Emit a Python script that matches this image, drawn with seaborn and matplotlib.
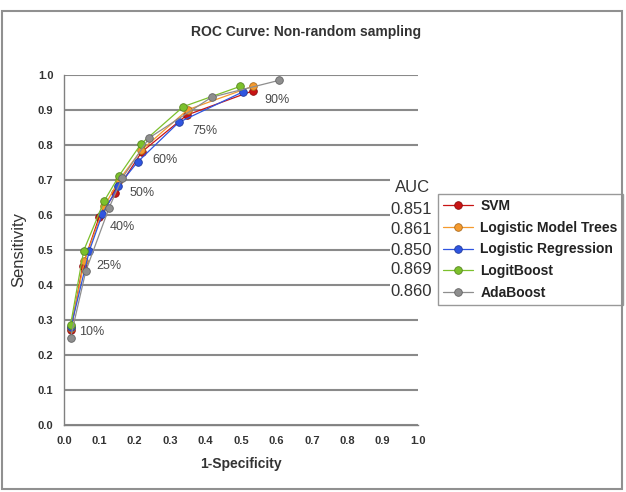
import numpy as np
import pandas as pd
import matplotlib
matplotlib.use('Agg')
import matplotlib.pyplot as plt
import matplotlib.colors as mcolors
from matplotlib.patches import Rectangle
import seaborn as sns

# ROC points (cutoffs 10%, 25%, 40%, 50%, 60%, 75%, 90%)
models = ['SVM', 'Logistic Model Trees', 'Logistic Regression', 'LogitBoost', 'AdaBoost']
auc = ['0.851', '0.861', '0.850', '0.869', '0.860']
cutoffs = ['10%', '25%', '40%', '50%', '60%', '75%', '90%']

svm_fpr = [0.020, 0.053, 0.100, 0.145, 0.220, 0.347, 0.533]
svm_tpr = [0.271, 0.454, 0.595, 0.663, 0.780, 0.885, 0.954]
lmt_fpr = [0.020, 0.058, 0.114, 0.156, 0.218, 0.349, 0.533]
lmt_tpr = [0.277, 0.469, 0.624, 0.700, 0.784, 0.900, 0.967]
lr_fpr = [0.020, 0.072, 0.109, 0.154, 0.208, 0.324, 0.505]
lr_tpr = [0.280, 0.498, 0.603, 0.683, 0.751, 0.864, 0.951]
lb_fpr = [0.019, 0.056, 0.114, 0.156, 0.218, 0.337, 0.498]
lb_tpr = [0.286, 0.498, 0.640, 0.712, 0.803, 0.909, 0.967]
ada_fpr = [0.019, 0.062, 0.128, 0.164, 0.241, 0.417, 0.607]
ada_tpr = [0.250, 0.440, 0.621, 0.704, 0.820, 0.936, 0.984]

# where the cutoff labels sit
label_x = [0.042, 0.093, 0.130, 0.184, 0.251, 0.364, 0.565]
label_y = [0.266, 0.454, 0.566, 0.663, 0.757, 0.840, 0.929]

colors = ['#C81414', '#F59A2E', '#2F55E0', '#7CC02C', '#8E8E8E']

frames = []
for name, fx, fy in zip(models,
                        [svm_fpr, lmt_fpr, lr_fpr, lb_fpr, ada_fpr],
                        [svm_tpr, lmt_tpr, lr_tpr, lb_tpr, ada_tpr]):
    frames.append(pd.DataFrame({'model': name, 'fpr': fx, 'tpr': fy}))
df = pd.concat(frames, ignore_index=True)

sns.set_style('white')
plt.rcParams['font.family'] = ['Liberation Sans', 'DejaVu Sans']

fig = plt.figure(figsize=(6.26, 4.92), dpi=100)
ax = fig.add_axes([0.102, 0.136, 0.566, 0.712])

sns.lineplot(data=df, x='fpr', y='tpr', hue='model', hue_order=models,
             palette=colors, sort=False, estimator=None, marker='o',
             markersize=5.5, linewidth=0.9, legend=False, ax=ax, zorder=3)

for line, c in zip(ax.lines, colors):
    edge = np.array(mcolors.to_rgb(c)) * 0.7
    line.set_markeredgecolor(edge)
    line.set_markeredgewidth(0.6)
    line.set_markerfacecolor(c)

for lab, lx, ly in zip(cutoffs, label_x, label_y):
    ax.text(lx, ly, lab, fontsize=9, color='#4a4a4a', va='center', ha='left')

ax.set_xlim(0, 1)
ax.set_ylim(0, 1)
ax.set_xticks(np.arange(0, 1.01, 0.1))
ax.set_yticks(np.arange(0, 1.01, 0.1))
ax.set_xticklabels([f'{v:.1f}' for v in np.arange(0, 1.01, 0.1)])
ax.set_yticklabels([f'{v:.1f}' for v in np.arange(0, 1.01, 0.1)])
ax.tick_params(axis='both', labelsize=8, colors='#808080', labelcolor='#333333',
               length=4, width=1, direction='out')
for t in ax.get_xticklabels() + ax.get_yticklabels():
    t.set_fontweight('bold')
ax.yaxis.grid(True, color='#8a8a8a', linewidth=1.5)
ax.xaxis.grid(False)
for s in ['top', 'right']:
    ax.spines[s].set_visible(False)
for s in ['left', 'bottom']:
    ax.spines[s].set_color('#808080')
    ax.spines[s].set_linewidth(1)

ax.set_xlabel('1-Specificity', fontsize=10, fontweight='bold', color='#333333', labelpad=8)
ax.set_ylabel('Sensitivity', fontsize=12, color='#333333', labelpad=8)

fig.text(0.489, 0.935, 'ROC Curve: Non-random sampling', fontsize=10,
         fontweight='bold', color='#333333', ha='center', va='center')

# AUC column, covering the grid behind it
fig.patches.append(Rectangle((390 / 626, 1 - 303 / 492), 45 / 626, 128 / 492,
                             transform=fig.transFigure, facecolor='white',
                             edgecolor='none', zorder=2))
fig.text(430 / 626, 1 - 188 / 492, 'AUC', fontsize=12, color='#333333',
         ha='right', va='center', zorder=3)
row_y = [210, 230, 250, 270, 292]
for v, ry in zip(auc, row_y):
    fig.text(432 / 626, 1 - ry / 492, v, fontsize=12, color='#333333',
             ha='right', va='center', zorder=3)

leg = ax.legend(ax.lines[:5], models, loc='upper left',
                bbox_to_anchor=(438 / 626, 1 - 194 / 492), bbox_transform=fig.transFigure,
                frameon=True, fancybox=False, edgecolor='#808080',
                prop={'weight': 'bold', 'size': 10}, labelspacing=0.56,
                handlelength=2.2, handletextpad=0.5, borderpad=0.35, borderaxespad=0)
leg.get_frame().set_linewidth(1)
for t in leg.get_texts():
    t.set_color('#222222')

fig.patches.append(Rectangle((0.003, 0.006), 0.991, 0.972, transform=fig.transFigure,
                             facecolor='none', edgecolor='#909090', linewidth=1.5))

fig.savefig('out.png', dpi=100)
